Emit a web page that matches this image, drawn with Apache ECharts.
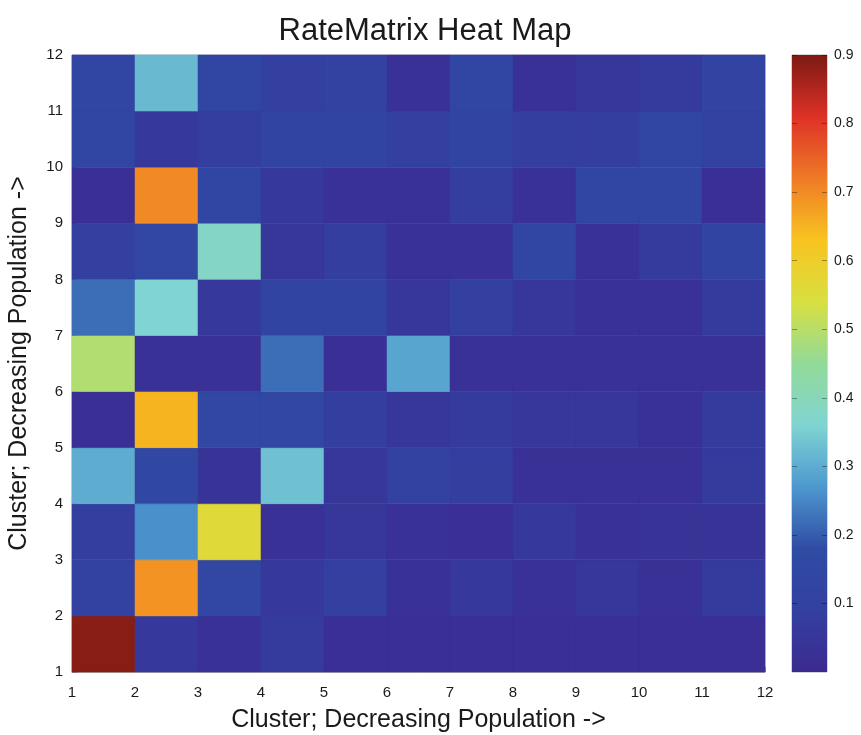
<!DOCTYPE html>
<html>
<head>
<meta charset="utf-8">
<script src="https://cdn.jsdelivr.net/npm/echarts@6/dist/echarts.min.js"></script>
<style>html,body{margin:0;padding:0;background:#fff;}#c{width:861px;height:735px;}</style>
</head>
<body>
<div id="c"></div>
<script>
// Cell lower-left corners (cluster indices)
const colStarts = [1, 2, 3, 4, 5, 6, 7, 8, 9, 10, 11];
const rowStarts = [1, 2, 3, 4, 5, 6, 7, 8, 9, 10, 11];
// Axis tick labels
const axisTicks = [1, 2, 3, 4, 5, 6, 7, 8, 9, 10, 11, 12];
const colorbarTicks = [0.1, 0.2, 0.3, 0.4, 0.5, 0.6, 0.7, 0.8, 0.9];
// Colour scale range
const scaleMin = 0;
const scaleMax = 0.9;
// Rate values, one array per row (row 1 = bottom), columns 1..11
const row1  = [0.89, 0.06, 0.03, 0.07, 0.02, 0.02, 0.02, 0.02, 0.02, 0.02, 0.02];
const row2  = [0.10, 0.69, 0.14, 0.06, 0.09, 0.03, 0.06, 0.03, 0.05, 0.03, 0.07];
const row3  = [0.08, 0.26, 0.56, 0.03, 0.05, 0.03, 0.02, 0.06, 0.03, 0.04, 0.04];
const row4  = [0.30, 0.15, 0.04, 0.33, 0.05, 0.10, 0.08, 0.03, 0.03, 0.03, 0.07];
const row5  = [0.02, 0.65, 0.14, 0.14, 0.08, 0.05, 0.07, 0.05, 0.05, 0.03, 0.07];
const row6  = [0.49, 0.03, 0.03, 0.22, 0.02, 0.29, 0.03, 0.03, 0.03, 0.03, 0.03];
const row7  = [0.22, 0.36, 0.06, 0.12, 0.12, 0.05, 0.09, 0.05, 0.03, 0.03, 0.07];
const row8  = [0.09, 0.14, 0.38, 0.05, 0.08, 0.03, 0.03, 0.13, 0.03, 0.07, 0.12];
const row9  = [0.02, 0.70, 0.13, 0.06, 0.03, 0.03, 0.08, 0.03, 0.13, 0.13, 0.02];
const row10 = [0.13, 0.06, 0.08, 0.12, 0.12, 0.09, 0.12, 0.08, 0.08, 0.13, 0.10];
const row11 = [0.13, 0.32, 0.13, 0.09, 0.10, 0.03, 0.13, 0.03, 0.05, 0.07, 0.11];
const rows = [row1, row2, row3, row4, row5, row6, row7, row8, row9, row10, row11];

const colormap = ['#3c2a90', '#3340a0', '#2f4ca4', '#4d98cf', '#80d4d2', '#92da98',
                  '#d8e040', '#f8c420', '#ef7a26', '#dd3127', '#7c1a13'];

const data = [];
rows.forEach((r, ri) => r.forEach((v, ci) => data.push([colStarts[ci], rowStarts[ri], v])));

const FONT = '"Liberation Sans", Arial, Helvetica, sans-serif';
const chart = echarts.init(document.getElementById('c'), null, {renderer: 'canvas'});
const gridL = 72, gridT = 55, gridB = 63, gridR = 96;
// gradient stops, bottom (min) to top (max)
const gradStops = colormap.map((c, i) => ({offset: 1 - i / (colormap.length - 1), color: c}));
const tickStyle = {show: true, inside: true, length: 5, lineStyle: {color: 'rgba(0,0,0,0.35)', width: 1}, customValues: colorbarTicks};
chart.setOption({
  backgroundColor: '#ffffff',
  animation: false,
  title: {
    text: 'RateMatrix Heat Map', left: 420, top: 11, textAlign: 'center',
    textStyle: {fontFamily: FONT, fontSize: 31, fontWeight: 'normal', color: '#1a1a1a'}
  },
  grid: [
    {left: gridL, right: gridR, top: gridT, bottom: gridB, show: true, borderColor: '#aaaaaa', borderWidth: 1,
     containLabel: false, outerBoundsMode: 'none'},
    {left: 792, width: 35, top: gridT, bottom: gridB, show: true, borderColor: '#aaaaaa', borderWidth: 1,
     containLabel: false, outerBoundsMode: 'none'}
  ],
  xAxis: [
    {
      type: 'value', gridIndex: 0, min: axisTicks[0], max: axisTicks[axisTicks.length - 1], interval: 1,
      name: 'Cluster; Decreasing Population ->', nameLocation: 'middle', nameGap: 36,
      nameTextStyle: {fontFamily: FONT, fontSize: 25, color: '#1a1a1a'},
      axisLine: {show: true, onZero: false, lineStyle: {color: '#aaaaaa'}},
      axisTick: {show: true, inside: true, length: 5, lineStyle: {color: '#888'}},
      axisLabel: {fontFamily: FONT, fontSize: 15, color: '#1a1a1a', margin: 13},
      splitLine: {show: false}
    },
    {type: 'value', gridIndex: 1, min: 0, max: 1, show: false, axisLine: {onZero: false}}
  ],
  yAxis: [
    {
      type: 'value', gridIndex: 0, min: axisTicks[0], max: axisTicks[axisTicks.length - 1], interval: 1,
      name: 'Cluster; Decreasing Population ->', nameLocation: 'middle', nameGap: 40, nameRotate: 90,
      nameTextStyle: {fontFamily: FONT, fontSize: 25, color: '#1a1a1a'},
      axisLine: {show: true, onZero: false, lineStyle: {color: '#aaaaaa'}},
      axisTick: {show: true, inside: true, length: 5, lineStyle: {color: '#888'}},
      axisLabel: {fontFamily: FONT, fontSize: 15, color: '#1a1a1a', margin: 9},
      splitLine: {show: false}
    },
    {
      type: 'value', gridIndex: 1, min: scaleMin, max: scaleMax, interval: 0.1, position: 'right', z: 10,
      axisLine: {show: false, onZero: false},
      axisTick: tickStyle,
      axisLabel: {fontFamily: FONT, fontSize: 14, color: '#1a1a1a', margin: 7, customValues: colorbarTicks,
                  formatter: v => v.toFixed(1)},
      splitLine: {show: false}
    },
    {
      type: 'value', gridIndex: 1, min: scaleMin, max: scaleMax, interval: 0.1, position: 'left', z: 10,
      axisLine: {show: false, onZero: false},
      axisTick: tickStyle,
      axisLabel: {show: false},
      splitLine: {show: false}
    }
  ],
  visualMap: {
    type: 'continuous', min: scaleMin, max: scaleMax, dimension: 2, seriesIndex: 0, show: false,
    inRange: {color: colormap}
  },
  series: [{
    type: 'custom',
    xAxisIndex: 0, yAxisIndex: 0,
    data: data,
    encode: {x: 0, y: 1},
    renderItem: function (params, api) {
      const x = api.value(0), y = api.value(1);
      const p0 = api.coord([x, y]);
      const p1 = api.coord([x + 1, y + 1]);
      return {
        type: 'rect',
        shape: {x: p0[0], y: p1[1], width: p1[0] - p0[0], height: p0[1] - p1[1]},
        style: {fill: api.visual('color'), stroke: api.visual('color'), lineWidth: 0.5}
      };
    },
    z: 1
  }, {
    type: 'custom',
    xAxisIndex: 1, yAxisIndex: 1,
    data: [[0, 1, scaleMin, scaleMax]],
    encode: {x: [0, 1], y: [2, 3]},
    renderItem: function (params, api) {
      const p0 = api.coord([api.value(0), api.value(2)]);
      const p1 = api.coord([api.value(1), api.value(3)]);
      return {
        type: 'rect',
        shape: {x: p0[0], y: p1[1], width: p1[0] - p0[0], height: p0[1] - p1[1]},
        style: {fill: new echarts.graphic.LinearGradient(0, 0, 0, 1, gradStops)}
      };
    },
    z: 1
  }]
});
</script>
</body>
</html>
